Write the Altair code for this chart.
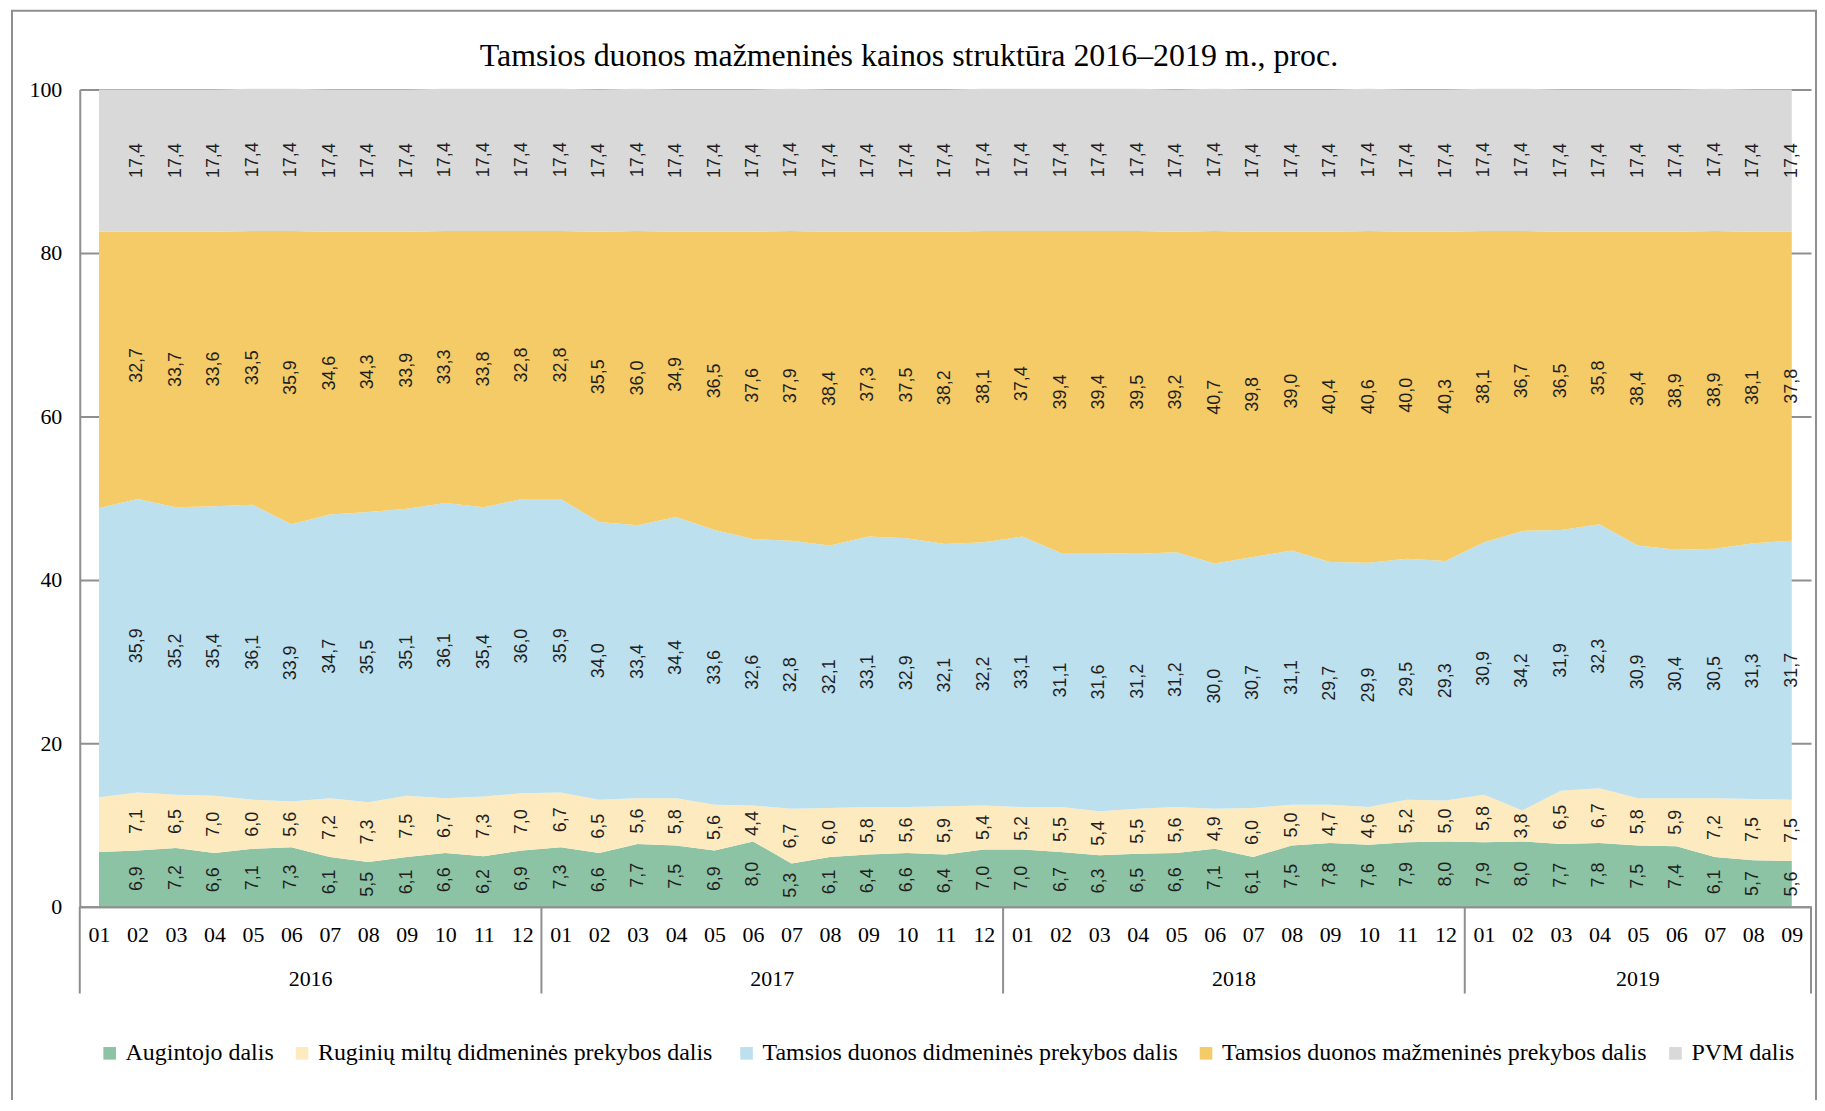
import json
import altair as alt
import pandas as pd

# ---------------- data ----------------
title_text = "Tamsios duonos mažmeninės kainos struktūra 2016–2019  m., proc."

years = ["2016"] * 12 + ["2017"] * 12 + ["2018"] * 12 + ["2019"] * 9
months = ["01", "02", "03", "04", "05", "06", "07", "08", "09", "10", "11", "12",
          "01", "02", "03", "04", "05", "06", "07", "08", "09", "10", "11", "12",
          "01", "02", "03", "04", "05", "06", "07", "08", "09", "10", "11", "12",
          "01", "02", "03", "04", "05", "06", "07", "08", "09"]

series_names = [
    "Augintojo dalis",
    "Ruginių miltų didmeninės  prekybos dalis",
    "Tamsios duonos didmeninės prekybos dalis",
    "Tamsios duonos mažmeninės prekybos dalis",
    "PVM dalis",
]
series_colors = ["#8DC3A5", "#FDEBBF", "#BDE0EF", "#F4CB66", "#D9D9D9"]

augintojo = [6.7, 6.9, 7.2, 6.6, 7.1, 7.3, 6.1, 5.5, 6.1, 6.6, 6.2, 6.9,
             7.3, 6.6, 7.7, 7.5, 6.9, 8.0, 5.3, 6.1, 6.4, 6.6, 6.4, 7.0,
             7.0, 6.7, 6.3, 6.5, 6.6, 7.1, 6.1, 7.5, 7.8, 7.6, 7.9, 8.0,
             7.9, 8.0, 7.7, 7.8, 7.5, 7.4, 6.1, 5.7, 5.6]
ruginiu = [6.7, 7.1, 6.5, 7.0, 6.0, 5.6, 7.2, 7.3, 7.5, 6.7, 7.3, 7.0,
           6.7, 6.5, 5.6, 5.8, 5.6, 4.4, 6.7, 6.0, 5.8, 5.6, 5.9, 5.4,
           5.2, 5.5, 5.4, 5.5, 5.6, 4.9, 6.0, 5.0, 4.7, 4.6, 5.2, 5.0,
           5.8, 3.8, 6.5, 6.7, 5.8, 5.9, 7.2, 7.5, 7.5]
didmenine = [35.4, 35.9, 35.2, 35.4, 36.1, 33.9, 34.7, 35.5, 35.1, 36.1, 35.4, 36.0,
             35.9, 34.0, 33.4, 34.4, 33.6, 32.6, 32.8, 32.1, 33.1, 32.9, 32.1, 32.2,
             33.1, 31.1, 31.6, 31.2, 31.2, 30.0, 30.7, 31.1, 29.7, 29.9, 29.5, 29.3,
             30.9, 34.2, 31.9, 32.3, 30.9, 30.4, 30.5, 31.3, 31.7]
mazmenine = [33.8, 32.7, 33.7, 33.6, 33.5, 35.9, 34.6, 34.3, 33.9, 33.3, 33.8, 32.8,
             32.8, 35.5, 36.0, 34.9, 36.5, 37.6, 37.9, 38.4, 37.3, 37.5, 38.2, 38.1,
             37.4, 39.4, 39.4, 39.5, 39.2, 40.7, 39.8, 39.0, 40.4, 40.6, 40.0, 40.3,
             38.1, 36.7, 36.5, 35.8, 38.4, 38.9, 38.9, 38.1, 37.8]
pvm = [17.4, 17.4, 17.4, 17.4, 17.4, 17.4, 17.4, 17.4, 17.4, 17.4, 17.4, 17.4,
       17.4, 17.4, 17.4, 17.4, 17.4, 17.4, 17.4, 17.4, 17.4, 17.4, 17.4, 17.4,
       17.4, 17.4, 17.4, 17.4, 17.4, 17.4, 17.4, 17.4, 17.4, 17.4, 17.4, 17.4,
       17.4, 17.4, 17.4, 17.4, 17.4, 17.4, 17.4, 17.4, 17.4]

# ---------------- tables ----------------
all_series = [augintojo, ruginiu, didmenine, mazmenine, pvm]
rows = []
for s_i, (name, vals) in enumerate(zip(series_names, all_series)):
    for i, v in enumerate(vals):
        rows.append({"idx": i, "series": name, "order": s_i, "value": v,
                     "year": years[i], "month": months[i]})
df = pd.DataFrame(rows)

n = len(months)
yr = pd.DataFrame({"year": years, "idx": list(range(n))})
year_tbl = yr.groupby("year")["idx"].agg(["min", "max"]).reset_index()
year_tbl["center"] = (year_tbl["min"] + year_tbl["max"]) / 2.0
bounds = sorted(set(list(year_tbl["min"] - 0.5) + list(year_tbl["max"] + 0.5)))
sep_df = pd.DataFrame({"bound": bounds})

W, H = 1737, 820
GRAY = "#8f8f8f"
month_expr = json.dumps(months) + "[datum.value]"

xscale = alt.Scale(domain=[-0.5, n - 0.5], nice=False, zero=False)
yscale = alt.Scale(domain=[0, 100], nice=False)

x_axis = alt.Axis(values=list(range(n)), labelExpr=month_expr, grid=False,
                  ticks=False, labelPadding=18, zindex=1, labelOverlap=False,
                  labelFlush=False, labelAngle=0, labelBound=False, title=None)
y_axis = alt.Axis(values=[0, 20, 40, 60, 80, 100], grid=True, ticks=False,
                  labelPadding=18, labelOverlap=False, title=None)

area = alt.Chart(df).mark_area(interpolate="linear").encode(
    x=alt.X("idx:Q", scale=xscale, axis=x_axis),
    y=alt.Y("value:Q", stack="zero", scale=yscale, axis=y_axis),
    color=alt.Color("series:N", sort=series_names,
                    scale=alt.Scale(domain=series_names, range=series_colors),
                    legend=alt.Legend(orient="none", legendX=18, legendY=955,
                                      direction="horizontal", columns=5, title=None,
                                      symbolType="square", symbolSize=160,
                                      symbolStrokeWidth=0, labelFont="Liberation Serif",
                                      labelFontSize=24, labelColor="black",
                                      labelLimit=900, columnPadding=16, labelOffset=4)),
    order=alt.Order("order:Q", sort="ascending"),
)

labels = alt.Chart(df).transform_stack(
    stack="value", groupby=["idx"], sort=[alt.SortField("order", "ascending")],
    as_=["v0", "v1"]
).transform_filter("datum.idx > 0").transform_calculate(
    mid="(datum.v0 + datum.v1) / 2",
    lab="replace(format(datum.value, '.1f'), '.', ',')",
).mark_text(angle=270, font="Liberation Sans", fontSize=18, color="#1f1f1f",
            align="center", baseline="middle").encode(
    x=alt.X("idx:Q", scale=xscale, axis=x_axis),
    y=alt.Y("mid:Q", scale=yscale, axis=y_axis),
    text="lab:N",
)

year_labels = alt.Chart(year_tbl).mark_text(
    font="Liberation Serif", fontSize=22, color="black", baseline="middle"
).encode(x=alt.X("center:Q", scale=xscale, axis=x_axis), y=alt.value(892), text="year:N")

separators = alt.Chart(sep_df).mark_rule(color=GRAY, strokeWidth=2).encode(
    x=alt.X("bound:Q", scale=xscale, axis=x_axis), y=alt.value(H), y2=alt.value(907)
)

title = alt.Chart(pd.DataFrame({"t": [title_text]})).mark_text(
    font="Liberation Serif", fontSize=32, color="black", baseline="middle", align="center"
).encode(x=alt.value(832), y=alt.value(-34), text="t:N")

frame = alt.Chart(pd.DataFrame({"a": [0]})).mark_rect(
    fillOpacity=0, stroke=GRAY, strokeWidth=2
).encode(x=alt.value(-68), x2=alt.value(1742), y=alt.value(-79), y2=alt.value(1150))

chart = alt.layer(frame, area, labels, separators, year_labels, title).properties(
    width=W, height=H,
    autosize=alt.AutoSizeParams(type="none"),
    padding={"left": 72, "top": 80, "right": 6, "bottom": 192},
    background="white",
).configure_view(strokeWidth=0).configure_axis(
    labelFont="Liberation Serif", labelFontSize=22, labelColor="black",
    domainColor=GRAY, domainWidth=2, gridColor=GRAY, gridWidth=2,
).configure_axisX(labelOverlap=False)

chart.save("out.html", embed_options={"renderer": "svg", "actions": False})
